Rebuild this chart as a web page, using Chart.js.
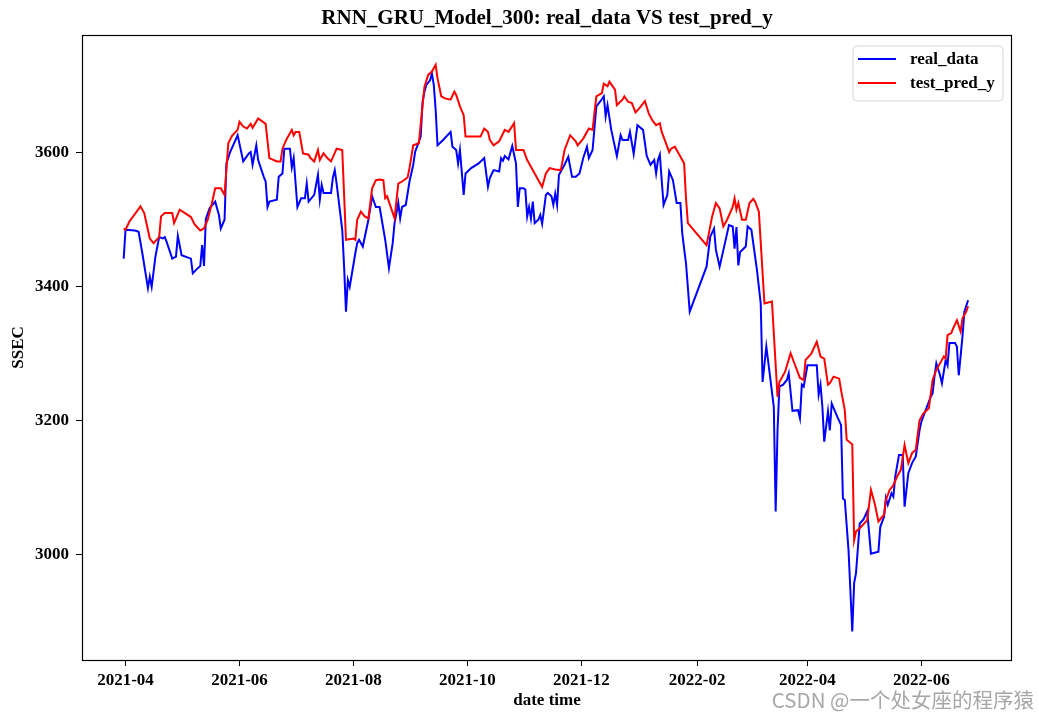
<!DOCTYPE html>
<html>
<head>
<meta charset="utf-8">
<script src="https://cdn.jsdelivr.net/npm/chart.js@4.4.1/dist/chart.umd.min.js"></script>
<style>
  html, body { margin: 0; padding: 0; background: #ffffff; }
  #wrap { width: 1039px; height: 719px; position: relative; }
</style>
</head>
<body>
<div id="wrap"><canvas id="c" width="1039" height="719"></canvas></div>
<script>
const chartTitle = 'RNN_GRU_Model_300: real_data VS test_pred_y';
const xAxisTitle = 'date time';
const yAxisTitle = 'SSEC';
const seriesNames = ['real_data', 'test_pred_y'];
const xTickLabels = ['2021-04', '2021-06', '2021-08', '2021-10', '2021-12', '2022-02', '2022-04', '2022-06'];
const yTickValues = [3000, 3200, 3400, 3600];
const xLimits = ['2021-03-08T16:48:00Z', '2022-07-19T12:00:00Z'];
const yLimits = [2843.4, 3775.5];
const watermark = 'CSDN @一个处女座的程序猿';

const realDates = [
'2021-03-31','2021-04-01','2021-04-06','2021-04-08','2021-04-10','2021-04-13','2021-04-14','2021-04-15','2021-04-17','2021-04-19',
'2021-04-21','2021-04-22','2021-04-23','2021-04-26','2021-04-28','2021-04-29','2021-05-01','2021-05-06','2021-05-07','2021-05-09',
'2021-05-11','2021-05-12','2021-05-13','2021-05-14','2021-05-16','2021-05-19','2021-05-21','2021-05-22','2021-05-24','2021-05-25',
'2021-05-27','2021-05-31','2021-06-03','2021-06-06','2021-06-07','2021-06-08','2021-06-10','2021-06-11','2021-06-14','2021-06-15',
'2021-06-16','2021-06-17','2021-06-21','2021-06-22','2021-06-24','2021-06-25','2021-06-28','2021-06-29','2021-06-30','2021-07-02',
'2021-07-04','2021-07-06','2021-07-07','2021-07-08','2021-07-11','2021-07-13','2021-07-14','2021-07-15','2021-07-16','2021-07-20',
'2021-07-21','2021-07-22','2021-07-23','2021-07-26','2021-07-27','2021-07-28','2021-07-29','2021-07-30','2021-08-02','2021-08-03',
'2021-08-04','2021-08-06','2021-08-09','2021-08-11','2021-08-13','2021-08-15','2021-08-18','2021-08-20','2021-08-22','2021-08-23',
'2021-08-25','2021-08-26','2021-08-27','2021-08-29','2021-08-31','2021-09-02','2021-09-03','2021-09-06','2021-09-07','2021-09-08',
'2021-09-09','2021-09-11','2021-09-12','2021-09-13','2021-09-14','2021-09-15','2021-09-18','2021-09-22','2021-09-23','2021-09-25',
'2021-09-26','2021-09-27','2021-09-29','2021-09-30','2021-10-03','2021-10-07','2021-10-10','2021-10-12','2021-10-13','2021-10-15',
'2021-10-18','2021-10-19','2021-10-20','2021-10-21','2021-10-23','2021-10-25','2021-10-27','2021-10-28','2021-10-29','2021-10-31',
'2021-11-01','2021-11-02','2021-11-03','2021-11-04','2021-11-05','2021-11-06','2021-11-08','2021-11-09','2021-11-10','2021-11-12',
'2021-11-13','2021-11-15','2021-11-16','2021-11-17','2021-11-18','2021-11-19','2021-11-22','2021-11-24','2021-11-26','2021-11-28',
'2021-11-30','2021-12-02','2021-12-04','2021-12-05','2021-12-07','2021-12-09','2021-12-11','2021-12-13','2021-12-14','2021-12-15',
'2021-12-17','2021-12-20','2021-12-22','2021-12-23','2021-12-26','2021-12-27','2021-12-29','2021-12-31','2022-01-03','2022-01-05',
'2022-01-07','2022-01-09','2022-01-10','2022-01-11','2022-01-12','2022-01-13','2022-01-14','2022-01-16','2022-01-17','2022-01-19',
'2022-01-21','2022-01-23','2022-01-24','2022-01-25','2022-01-26','2022-01-28','2022-02-06','2022-02-08','2022-02-10','2022-02-11',
'2022-02-13','2022-02-16','2022-02-18','2022-02-20','2022-02-21','2022-02-22','2022-02-23','2022-02-24','2022-02-27','2022-02-28',
'2022-03-02','2022-03-05','2022-03-07','2022-03-08','2022-03-10','2022-03-12','2022-03-14','2022-03-15','2022-03-16','2022-03-17',
'2022-03-19','2022-03-21','2022-03-22','2022-03-24','2022-03-27','2022-03-28','2022-03-29','2022-03-30','2022-04-01','2022-04-06',
'2022-04-07','2022-04-08','2022-04-09','2022-04-10','2022-04-12','2022-04-13','2022-04-14','2022-04-17','2022-04-19','2022-04-20',
'2022-04-21','2022-04-23','2022-04-25','2022-04-26','2022-04-27','2022-04-29','2022-05-01','2022-05-03','2022-05-05','2022-05-09',
'2022-05-10','2022-05-12','2022-05-13','2022-05-14','2022-05-16','2022-05-17','2022-05-18','2022-05-20','2022-05-22','2022-05-23',
'2022-05-25','2022-05-27','2022-05-29','2022-05-31','2022-06-01','2022-06-03','2022-06-06','2022-06-07','2022-06-08','2022-06-09',
'2022-06-11','2022-06-12','2022-06-14','2022-06-15','2022-06-16','2022-06-19','2022-06-20','2022-06-21','2022-06-23','2022-06-24',
'2022-06-26'
];
const realValues = [
3442,3485,3484,3482,3450,3398,3415,3400,3445,3474,
3472,3474,3467,3442,3445,3476,3447,3442,3420,3426,
3431,3462,3431,3501,3517,3527,3507,3487,3500,3584,
3601,3626,3587,3599,3601,3582,3611,3589,3564,3557,
3519,3527,3530,3564,3569,3606,3606,3578,3592,3519,
3532,3532,3554,3527,3537,3567,3530,3552,3540,3540,
3563,3574,3554,3485,3430,3363,3410,3400,3450,3465,
3470,3460,3500,3535,3519,3519,3470,3428,3465,3495,
3525,3502,3519,3522,3557,3582,3601,3624,3676,3691,
3701,3708,3718,3701,3664,3611,3619,3631,3609,3604,
3584,3604,3537,3569,3577,3584,3592,3549,3562,3574,
3572,3592,3588,3595,3590,3610,3584,3519,3547,3547,
3545,3505,3519,3502,3527,3495,3500,3507,3494,3537,
3540,3535,3522,3539,3522,3567,3582,3594,3564,3564,
3569,3592,3609,3592,3604,3669,3676,3684,3654,3671,
3634,3595,3626,3619,3619,3631,3598,3641,3634,3595,
3582,3589,3569,3589,3597,3559,3522,3537,3572,3559,
3525,3525,3480,3457,3435,3363,3430,3475,3487,3455,
3430,3467,3492,3490,3457,3489,3432,3452,3460,3490,
3485,3425,3375,3258,3311,3266,3221,3065,3186,3251,
3254,3261,3271,3215,3216,3204,3254,3251,3283,3283,
3239,3254,3221,3169,3214,3186,3226,3206,3194,3084,
3082,3007,2886,2958,2973,3047,3053,3065,3002,3005,
3042,3057,3085,3075,3092,3087,3117,3149,3149,3072,
3122,3137,3147,3186,3199,3214,3236,3241,3266,3286,
3268,3256,3291,3283,3316,3316,3311,3268,3326,3363,
3380
];

const predDates = [
'2021-03-31','2021-04-01','2021-04-03','2021-04-09','2021-04-11','2021-04-14','2021-04-16','2021-04-19','2021-04-20','2021-04-22',
'2021-04-26','2021-04-27','2021-04-30','2021-05-06','2021-05-08','2021-05-11','2021-05-13','2021-05-15','2021-05-17','2021-05-19',
'2021-05-22','2021-05-24','2021-05-26','2021-05-28','2021-05-31','2021-06-01','2021-06-03','2021-06-05','2021-06-07','2021-06-08',
'2021-06-11','2021-06-15','2021-06-17','2021-06-21','2021-06-23','2021-06-24','2021-06-26','2021-06-29','2021-06-30','2021-07-01',
'2021-07-03','2021-07-05','2021-07-08','2021-07-09','2021-07-11','2021-07-13','2021-07-14','2021-07-16','2021-07-18','2021-07-20',
'2021-07-23','2021-07-26','2021-07-28','2021-08-01','2021-08-02','2021-08-03','2021-08-05','2021-08-07','2021-08-09','2021-08-11',
'2021-08-13','2021-08-15','2021-08-17','2021-08-18','2021-08-19','2021-08-23','2021-08-25','2021-08-27','2021-08-30','2021-08-31',
'2021-09-02','2021-09-05','2021-09-07','2021-09-08','2021-09-10','2021-09-12','2021-09-14','2021-09-15','2021-09-17','2021-09-19',
'2021-09-22','2021-09-24','2021-09-25','2021-09-27','2021-09-29','2021-09-30','2021-10-08','2021-10-10','2021-10-12','2021-10-13',
'2021-10-15','2021-10-18','2021-10-21','2021-10-23','2021-10-26','2021-10-27','2021-10-31','2021-11-02','2021-11-04','2021-11-06',
'2021-11-08','2021-11-10','2021-11-12','2021-11-14','2021-11-17','2021-11-20','2021-11-22','2021-11-25','2021-11-28','2021-11-29',
'2021-12-02','2021-12-05','2021-12-07','2021-12-09','2021-12-12','2021-12-13','2021-12-15','2021-12-16','2021-12-19','2021-12-20',
'2021-12-23','2021-12-24','2021-12-26','2021-12-28','2021-12-30','2022-01-01','2022-01-04','2022-01-06','2022-01-08','2022-01-10',
'2022-01-12','2022-01-13','2022-01-15','2022-01-17','2022-01-18','2022-01-20','2022-01-22','2022-01-25','2022-01-26','2022-01-27',
'2022-02-06','2022-02-09','2022-02-11','2022-02-13','2022-02-15','2022-02-17','2022-02-20','2022-02-21','2022-02-22','2022-02-23',
'2022-02-25','2022-02-27','2022-03-01','2022-03-03','2022-03-04','2022-03-06','2022-03-09','2022-03-13','2022-03-16','2022-03-17',
'2022-03-20','2022-03-23','2022-03-25','2022-03-28','2022-03-30','2022-03-31','2022-04-03','2022-04-06','2022-04-08','2022-04-10',
'2022-04-12','2022-04-13','2022-04-15','2022-04-18','2022-04-19','2022-04-21','2022-04-22','2022-04-25','2022-04-26','2022-04-27',
'2022-04-29','2022-05-03','2022-05-05','2022-05-07','2022-05-09','2022-05-12','2022-05-13','2022-05-15','2022-05-17','2022-05-19',
'2022-05-21','2022-05-23','2022-05-25','2022-05-27','2022-05-29','2022-05-31','2022-06-02','2022-06-05','2022-06-07','2022-06-09',
'2022-06-12','2022-06-13','2022-06-14','2022-06-15','2022-06-17','2022-06-18','2022-06-20','2022-06-22','2022-06-23','2022-06-25',
'2022-06-26'
];
const predValues = [
3487,3485,3497,3520,3510,3472,3465,3474,3505,3510,
3510,3495,3515,3504,3493,3484,3487,3500,3522,3547,
3547,3537,3614,3625,3634,3646,3639,3636,3643,3637,
3651,3643,3592,3587,3587,3606,3619,3634,3626,3631,
3631,3599,3597,3592,3587,3604,3589,3599,3592,3587,
3606,3604,3470,3472,3470,3500,3512,3505,3502,3547,
3559,3560,3559,3532,3535,3502,3554,3557,3563,3577,
3611,3614,3671,3698,3716,3721,3731,3711,3684,3681,
3679,3691,3686,3669,3656,3624,3624,3636,3631,3619,
3611,3617,3634,3631,3644,3604,3604,3589,3579,3569,
3559,3549,3569,3577,3575,3574,3604,3626,3617,3611,
3621,3636,3634,3684,3689,3703,3699,3706,3694,3671,
3679,3684,3676,3674,3660,3666,3677,3659,3648,3641,
3644,3631,3616,3601,3606,3609,3599,3584,3532,3495,
3462,3505,3525,3517,3490,3500,3519,3532,3515,3525,
3500,3500,3525,3531,3527,3512,3375,3378,3236,3258,
3273,3301,3286,3264,3261,3291,3300,3318,3296,3293,
3254,3256,3266,3263,3246,3216,3172,3165,3022,3035,
3040,3052,3097,3077,3050,3060,3082,3097,3104,3117,
3127,3164,3137,3152,3157,3201,3211,3219,3261,3276,
3291,3296,3293,3328,3331,3338,3350,3333,3353,3363,
3371
];

const SERIF = '"Liberation Serif", "Times New Roman", serif';
const toMs = s => Date.parse(s.length === 7 ? s + '-01T00:00:00Z' : (s.length === 10 ? s + 'T00:00:00Z' : s));
const pairs = (ds, vs) => ds.map((d, i) => ({ x: toMs(d), y: vs[i] }));

const framePlugin = {
  id: 'frameLegendMark',
  afterDraw(chart) {
    const ctx = chart.ctx;
    const a = chart.chartArea;
    ctx.save();
    // axes frame (spines)
    ctx.strokeStyle = '#000000';
    ctx.lineWidth = 1.2;
    const L = Math.round(a.left) + 0.5, T = Math.round(a.top) + 0.5;
    const R = Math.round(a.right) - 0.5, B = Math.round(a.bottom) + 0.5;
    ctx.strokeRect(L, T, R - L, B - T);
    // legend
    const bx = a.right - 159, by = a.top + 11, bw = 150, bh = 55, r = 4;
    ctx.beginPath();
    ctx.moveTo(bx + r, by);
    ctx.arcTo(bx + bw, by, bx + bw, by + bh, r);
    ctx.arcTo(bx + bw, by + bh, bx, by + bh, r);
    ctx.arcTo(bx, by + bh, bx, by, r);
    ctx.arcTo(bx, by, bx + bw, by, r);
    ctx.closePath();
    ctx.fillStyle = 'rgba(255,255,255,0.8)';
    ctx.fill();
    ctx.strokeStyle = '#d6d6d6';
    ctx.lineWidth = 1;
    ctx.stroke();
    chart.data.datasets.forEach((ds, i) => {
      const yy = by + 13 + i * 24;
      ctx.beginPath();
      ctx.moveTo(bx + 5, yy);
      ctx.lineTo(bx + 43, yy);
      ctx.strokeStyle = ds.borderColor;
      ctx.lineWidth = 2;
      ctx.stroke();
      ctx.fillStyle = '#000000';
      ctx.font = 'bold 17px ' + SERIF;
      ctx.textAlign = 'left';
      ctx.textBaseline = 'middle';
      ctx.fillText(ds.label, bx + 57, yy + 1);
    });
    // watermark
    ctx.font = '20.5px "Noto Sans CJK SC", "Noto Sans", sans-serif';
    ctx.fillStyle = 'rgba(150,150,150,0.85)';
    ctx.textAlign = 'right';
    ctx.textBaseline = 'middle';
    ctx.fillText(watermark, 1034, 700);
    ctx.restore();
  }
};

new Chart(document.getElementById('c'), {
  type: 'line',
  data: {
    datasets: [
      { label: seriesNames[0], data: pairs(realDates, realValues), borderColor: '#0000ff', backgroundColor: '#0000ff',
        borderWidth: 2, pointRadius: 0, tension: 0, fill: false, order: 1 },
      { label: seriesNames[1], data: pairs(predDates, predValues), borderColor: '#ff0000', backgroundColor: '#ff0000',
        borderWidth: 2, pointRadius: 0, tension: 0, fill: false, order: 0 }
    ]
  },
  options: {
    responsive: false,
    animation: false,
    devicePixelRatio: 1,
    layout: { padding: { left: 0, top: 0, right: 27, bottom: 0 } },
    plugins: {
      legend: { display: false },
      tooltip: { enabled: false },
      title: {
        display: true, text: chartTitle, color: '#000000', fullSize: false,
        font: { family: SERIF, size: 21, weight: 'bold' },
        padding: { top: 6, bottom: 3.8 }
      }
    },
    scales: {
      x: {
        type: 'linear',
        min: toMs(xLimits[0]), max: toMs(xLimits[1]),
        afterBuildTicks: s => { s.ticks = xTickLabels.map(l => ({ value: toMs(l) })); },
        afterFit: s => { s.height = 59; },
        ticks: {
          autoSkip: false, maxRotation: 0, color: '#000000', padding: 4,
          font: { family: SERIF, size: 17, weight: 'bold' },
          callback: (v) => { const i = xTickLabels.findIndex(l => toMs(l) === v); return i >= 0 ? xTickLabels[i] : ''; }
        },
        grid: { display: true, drawOnChartArea: false, drawTicks: true, tickLength: 6, color: '#000000' },
        border: { display: false },
        title: { display: true, text: xAxisTitle, color: '#000000',
          font: { family: SERIF, size: 17, weight: 'bold' }, padding: { top: 0, bottom: 8 } }
      },
      y: {
        type: 'linear',
        min: yLimits[0], max: yLimits[1],
        afterBuildTicks: s => { s.ticks = yTickValues.map(v => ({ value: v })); },
        afterFit: s => { s.width = 82; },
        ticks: {
          color: '#000000', padding: 7,
          font: { family: SERIF, size: 17, weight: 'bold' },
          callback: v => String(v)
        },
        grid: { display: true, drawOnChartArea: false, drawTicks: true, tickLength: 6, color: '#000000' },
        border: { display: false },
        title: { display: true, text: yAxisTitle, color: '#000000',
          font: { family: SERIF, size: 17, weight: 'bold' }, padding: { top: 8, bottom: 0 } }
      }
    }
  },
  plugins: [framePlugin]
});
</script>
</body>
</html>
